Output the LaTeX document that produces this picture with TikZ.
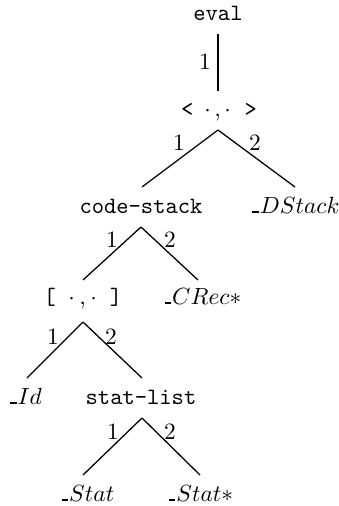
\documentclass[tikz,border=0pt]{standalone}
\usetikzlibrary{calc}
\newcommand{\usc}{\rule{2.8pt}{0.8pt}\kern0.4pt}
\begin{document}
\begin{tikzpicture}[x=0.427pt,y=-0.427pt,
  tnode/.style={inner sep=0pt, anchor=base},
  lbl/.style={inner sep=0pt},
  edge/.style={line width=0.55pt}]
\useasboundingbox (0,0) rectangle (339,506);
% nodes (x = text centre, y = baseline)
\node[tnode] (eval)  at (218,20)  {\texttt{eval}};
\node[tnode] (tuple) at (219,116) {\texttt{<}\hspace{4.7pt}$\cdot$\hspace{1.5pt},\hspace{1.5pt}$\cdot$\hspace{5.8pt}\texttt{>}};
\node[tnode] (cs)    at (141,213) {\texttt{code-stack}};
\node[tnode] (ds)    at (296,213) {\usc$DStack$};
\node[tnode] (br)    at (83,304)  {\texttt{[}\hspace{5.3pt}$\cdot$\hspace{1.9pt},\hspace{1.9pt}$\cdot$\hspace{5.6pt}\texttt{]}};
\node[tnode] (cr)    at (203,304) {\usc$CRec{\ast}$};
\node[tnode] (id)    at (26,404)  {\usc$Id$};
\node[tnode] (sl)    at (141,404) {\texttt{stat-list}};
\node[tnode] (st)    at (88,501)  {\usc$Stat$};
\node[tnode] (ss)    at (201,501) {\usc$Stat{\ast}$};
% connectors
\draw[edge] ($(eval.base)+(0,14)$) -- ($(tuple.base)+(-1,-25)$);
\draw[edge] ($(tuple.base)+(-1,14)$) -- ($(cs.base)+(1,-26)$);
\draw[edge] ($(tuple.base)+(-1,14)$) -- ($(ds.base)+(-1,-26)$);
\draw[edge] ($(cs.base)+(0,14)$) -- ($(br.base)+(0,-24)$);
\draw[edge] ($(cs.base)+(0,14)$) -- ($(cr.base)+(-5,-24)$);
\draw[edge] ($(br.base)+(0,18)$) -- ($(id.base)+(1,-26)$);
\draw[edge] ($(br.base)+(0,18)$) -- ($(sl.base)+(1,-26)$);
\draw[edge] ($(sl.base)+(1,14)$) -- ($(st.base)+(-5,-26)$);
\draw[edge] ($(sl.base)+(1,14)$) -- ($(ss.base)+(-1,-26)$);
% edge labels
\node[lbl] (le1) at (205,62)  {1};
\node[lbl] (lt1) at (179,143) {1};
\node[lbl] (lt2) at (255,143) {2};
\node[lbl] (lc1) at (112,240) {1};
\node[lbl] (lc2) at (170,240) {2};
\node[lbl] (lb1) at (53,337)  {1};
\node[lbl] (lb2) at (111,337) {2};
\node[lbl] (ls1) at (113,432) {1};
\node[lbl] (ls2) at (170,432) {2};
\end{tikzpicture}
\end{document}
